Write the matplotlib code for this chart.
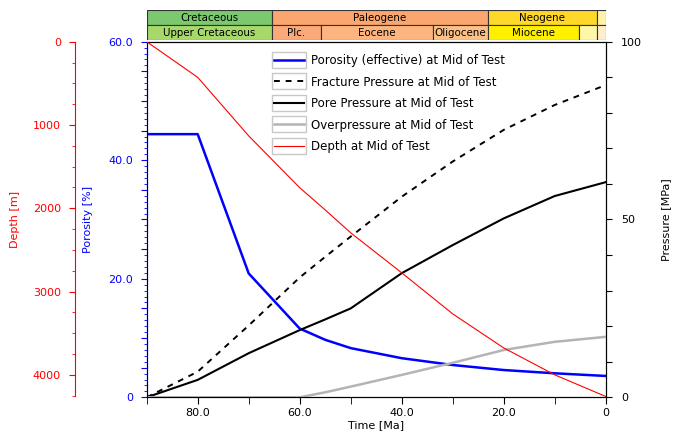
import matplotlib
matplotlib.use("Agg")
import matplotlib.pyplot as plt
from matplotlib.ticker import MultipleLocator, FuncFormatter
from matplotlib.legend_handler import HandlerLine2D
from matplotlib.patches import Rectangle

# ---------------- data ----------------
time_ma = [90, 80, 70, 60, 55, 50, 40, 30, 20, 10, 0]
porosity = [44.4, 44.4, 20.9, 11.6, 9.7, 8.3, 6.6, 5.45, 4.6, 4.05, 3.6]
fracture_p = [0.0, 7.2, 20.2, 33.7, 39.5, 45.2, 56.4, 66.3, 75.2, 82.2, 87.8]
pore_p = [0.0, 4.9, 12.4, 18.9, 21.9, 25.0, 34.9, 42.8, 50.3, 56.6, 60.5]
over_p = [0.0, 0.0, 0.0, 0.0, 1.4, 3.0, 6.3, 9.7, 13.3, 15.6, 17.0]
depth_m = [0, 428, 1131, 1753, 2020, 2295, 2775, 3268, 3677, 4000, 4260]

periods = ["Cretaceous", "Paleogene", "Neogene", ""]
period_start = [90.0, 65.5, 23.0, 1.8]
period_end = [65.5, 23.0, 1.8, 0.0]
period_colors = ["#7cc86e", "#fba66e", "#ffd829", "#fff3a8"]

epochs = ["Upper Cretaceous", "Plc.", "Eocene", "Oligocene", "Miocene", "", ""]
epoch_start = [90.0, 65.5, 55.8, 33.9, 23.0, 5.3, 1.8]
epoch_end = [65.5, 55.8, 33.9, 23.0, 5.3, 1.8, 0.0]
epoch_colors = ["#a6d96a", "#fba978", "#fdb57f", "#fdc187", "#fff000", "#fff7a8", "#ffeec8"]

FS = 8
plt.rcParams['font.family'] = ['DejaVu Sans']
plt.rcParams['font.size'] = FS

fig = plt.figure(figsize=(6.73, 4.40), dpi=100)
L, R = 146.7 / 673, 605.7 / 673
B, T = (440 - 397.3) / 440, (440 - 41.7) / 440
ax = fig.add_axes([L, B, R - L, T - B])
ax_p = ax.twinx()
ax_d = ax.twinx()

# depth axis on far left
ax_d.yaxis.set_ticks_position('left')
ax_d.yaxis.set_label_position('left')
ax_d.spines['left'].set_position(('outward', 72 * 0.72))
ax_d.spines['left'].set_bounds(0, 4260)
for s in ['right', 'top', 'bottom']:
    ax_d.spines[s].set_visible(False)
ax_d.spines['left'].set_color('red')

# lines
ln_por, = ax.plot(time_ma, porosity, color='#0000ff', lw=1.8)
ln_fr, = ax_p.plot(time_ma, fracture_p, color='black', lw=1.4, ls=(0, (3, 3)))
ln_pp, = ax_p.plot(time_ma, pore_p, color='black', lw=1.5)
ln_op, = ax_p.plot(time_ma, over_p, color='#b4b4b4', lw=1.8)
ln_d, = ax_d.plot(time_ma, depth_m, color='red', lw=0.8)

ax.set_xlim(90, 0)
ax.set_ylim(0, 60)
ax_p.set_ylim(0, 100)
ax_d.set_ylim(4270, 0)

# x axis
ax.xaxis.set_major_locator(MultipleLocator(20))
ax.xaxis.set_minor_locator(MultipleLocator(10))
ax.xaxis.set_major_formatter(FuncFormatter(lambda v, p: "0" if abs(v) < 1e-9 else f"{v:.1f}"))
ax.tick_params(axis='x', which='both', direction='out', length=5, colors='black', pad=3)
ax.set_xlabel("Time [Ma]", labelpad=1)

# porosity axis
ax.yaxis.set_major_locator(MultipleLocator(5))
ax.yaxis.set_minor_locator(MultipleLocator(1))
ax.yaxis.set_major_formatter(FuncFormatter(lambda v, p: ("0" if abs(v) < 1e-9 else f"{v:.1f}") if abs(v % 20) < 1e-9 else ""))
ax.tick_params(axis='y', which='major', direction='out', length=4, color='blue', labelcolor='blue', pad=6)
ax.tick_params(axis='y', which='minor', direction='out', length=2, color='blue')
ax.spines['left'].set_color('blue')
ax.set_ylabel("Porosity [%]", color='blue', labelpad=11)

# pressure axis
ax_p.yaxis.set_major_locator(MultipleLocator(10))
ax_p.yaxis.set_major_formatter(FuncFormatter(lambda v, p: f"{int(round(v))}" if abs(v % 50) < 1e-9 else ""))
ax_p.tick_params(axis='y', which='major', direction='out', length=4, pad=7)
ax_p.set_ylabel("Pressure [MPa]", labelpad=14)

# depth axis ticks
ax_d.yaxis.set_major_locator(MultipleLocator(1000))
ax_d.yaxis.set_minor_locator(MultipleLocator(250))
ax_d.tick_params(axis='y', which='major', direction='out', length=4, color='red', labelcolor='red', pad=6)
ax_d.tick_params(axis='y', which='minor', direction='out', length=2, color='red')
ax_d.set_ylabel("Depth [m]", color='red', labelpad=9)

for a in (ax, ax_p):
    for s in a.spines.values():
        s.set_linewidth(0.8)

# ---------------- geological time scale ----------------
TB = (440 - 40.5) / 440
TT = (440 - 10) / 440
axt = fig.add_axes([L, TB, R - L, TT - TB])
axt.set_xlim(90, 0)
axt.set_ylim(0, 2)
axt.axis('off')
w1 = [s - e for s, e in zip(period_start, period_end)]
axt.barh([1.5] * len(periods), [-w for w in w1], left=period_start, height=1.0,
         color=period_colors, edgecolor='#333333', linewidth=0.8)
w2 = [s - e for s, e in zip(epoch_start, epoch_end)]
axt.barh([0.5] * len(epochs), [-w for w in w2], left=epoch_start, height=1.0,
         color=epoch_colors, edgecolor='#333333', linewidth=0.8)
for name, s, e in zip(periods, period_start, period_end):
    if name:
        axt.text((s + e) / 2, 1.5, name, ha='center', va='center', fontsize=7.4)
for name, s, e in zip(epochs, epoch_start, epoch_end):
    if name:
        axt.text((s + e) / 2, 0.5, name, ha='center', va='center', fontsize=7.4)

# ---------------- legend ----------------
class BoxedHandler(HandlerLine2D):
    def create_artists(self, legend, orig_handle, xdescent, ydescent, width, height, fontsize, trans):
        arts = super().create_artists(legend, orig_handle, xdescent, ydescent, width, height, fontsize, trans)
        rect = Rectangle((-xdescent - 1.5, -ydescent - 2.8), width + 3, height + 5.6,
                         facecolor='white', edgecolor='#c8c8c8', linewidth=1.0, transform=trans)
        return [rect] + list(arts)

handles = [ln_por, ln_fr, ln_pp, ln_op, ln_d]
labels = ["Porosity (effective) at Mid of Test", "Fracture Pressure at Mid of Test",
          "Pore Pressure at Mid of Test", "Overpressure at Mid of Test", "Depth at Mid of Test"]
leg = fig.legend(handles, labels, loc='upper left', bbox_to_anchor=(274 / 673, 1 - 54 / 440),
                 frameon=False, handlelength=2.55, handletextpad=0.6, labelspacing=0.72,
                 borderpad=0, borderaxespad=0, fontsize=8.5,
                 handler_map={l: BoxedHandler() for l in handles})

fig.savefig("out.png", dpi=100)
